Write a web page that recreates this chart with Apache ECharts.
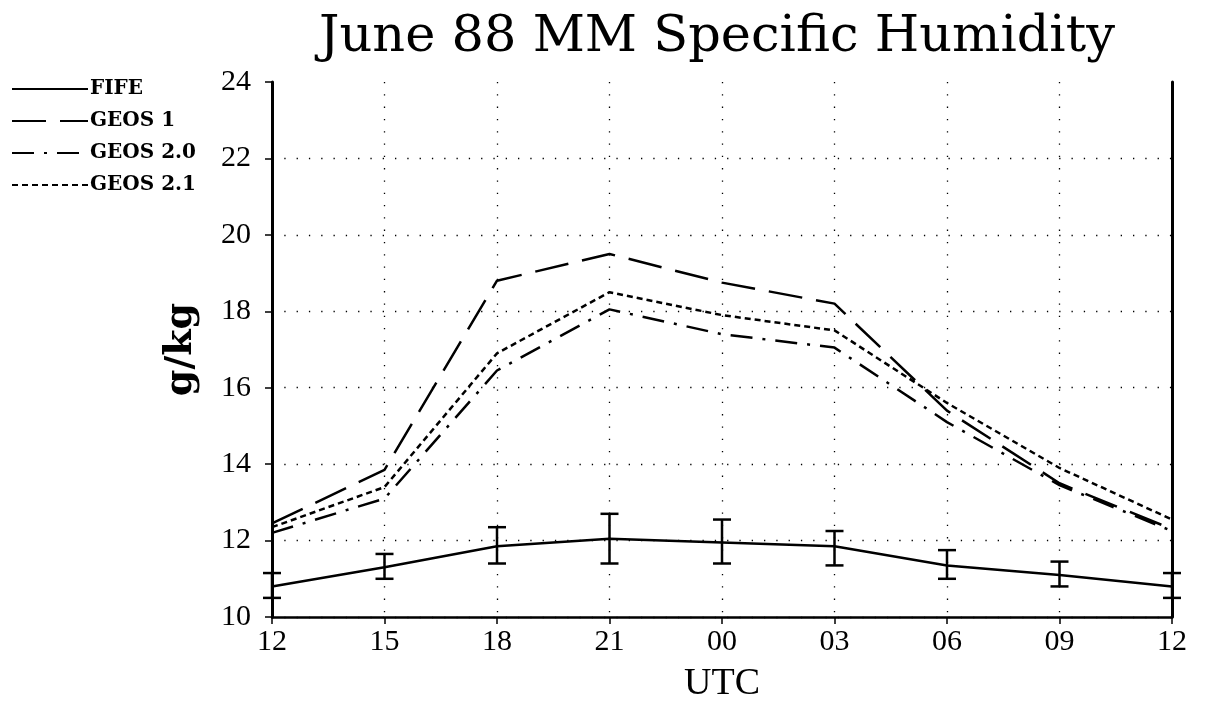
<!DOCTYPE html>
<html>
<head>
<meta charset="utf-8">
<title>June 88 MM Specific Humidity</title>
<script src="https://cdn.jsdelivr.net/npm/echarts@6/dist/echarts.min.js"></script>
<style>
  html, body { margin: 0; padding: 0; background: #fff; }
  #main { width: 1206px; height: 705px; }
</style>
</head>
<body>
<div id="main"></div>
<script>
// UTC hours along the bottom (12 UTC twice: start and end of the day)
var hours = ['12', '15', '18', '21', '00', '03', '06', '09', '12'];

// specific humidity, g/kg
var fife    = [10.8, 11.3, 11.85, 12.05, 11.95, 11.85, 11.35, 11.1, 10.8];
var fifeLow = [10.5, 11.0, 11.4, 11.4, 11.4, 11.35, 11.0, 10.8, 10.5];
var fifeHigh= [11.15, 11.65, 12.35, 12.7, 12.55, 12.25, 11.75, 11.45, 11.15];
var geos1   = [12.45, 13.85, 18.8, 19.5, 18.75, 18.2, 15.4, 13.5, 12.3];
var geos20  = [12.2, 13.1, 16.45, 18.05, 17.4, 17.05, 15.1, 13.45, 12.25];
var geos21  = [12.35, 13.4, 16.9, 18.5, 17.9, 17.5, 15.6, 13.9, 12.55];

var serif = '"DejaVu Serif", "Liberation Serif", serif';
var labelFont = '"Liberation Serif", "DejaVu Serif", serif';
var dots = { color: '#000', width: 1.3, type: [1.3, 11] };

var errData = fife.map(function (v, i) { return [i, fifeLow[i], fifeHigh[i]]; });

var myChart = echarts.init(document.getElementById('main'), null, { renderer: 'canvas' });

var option = {
  backgroundColor: '#fff',
  animation: false,
  title: {
    text: 'June 88 MM Specific Humidity',
    left: 314,
    top: 7,
    textStyle: { fontFamily: serif, fontSize: 51, fontWeight: 'normal', color: '#000' }
  },
  legend: {
    data: ['FIFE', 'GEOS 1', 'GEOS 2.0', 'GEOS 2.1'],
    orient: 'vertical',
    left: 6,
    top: 74,
    itemWidth: 76,
    itemHeight: 12,
    itemGap: 12,
    itemStyle: { opacity: 0 },
    textStyle: { fontFamily: serif, fontSize: 20, fontWeight: 'bold', color: '#000', lineHeight: 20, padding: [0, 0, 0, -3] }
  },
  grid: { left: 272, right: 34, top: 82, bottom: 88, outerBoundsMode: 'none' },
  xAxis: {
    type: 'category',
    data: hours,
    boundaryGap: false,
    name: 'UTC',
    nameLocation: 'middle',
    nameGap: 48,
    nameTextStyle: { fontFamily: labelFont, fontSize: 38, color: '#000' },
    axisLine: { lineStyle: { color: '#000', width: 2.5 } },
    axisTick: { show: true, length: 7, lineStyle: { color: '#000', width: 1.5 } },
    axisLabel: { margin: 10, fontFamily: labelFont, fontSize: 30, color: '#000' },
    splitLine: { show: true, lineStyle: dots }
  },
  yAxis: [{
    type: 'value',
    min: 10,
    max: 24,
    interval: 2,
    name: 'g/kg',
    nameLocation: 'middle',
    nameRotate: 90,
    nameGap: 72,
    nameTextStyle: { fontFamily: serif, fontSize: 38, fontWeight: 'bold', color: '#000' },
    axisLine: { show: true, lineStyle: { color: '#000', width: 3 } },
    axisTick: { show: true, length: 7, lineStyle: { color: '#000', width: 1.5 } },
    axisLabel: { margin: 21, fontFamily: labelFont, fontSize: 30, color: '#000' },
    splitLine: { show: true, showMaxLine: false, lineStyle: dots }
  }, {
    type: 'value',
    position: 'right',
    min: 10,
    max: 24,
    interval: 2,
    axisLine: { show: true, lineStyle: { color: '#000', width: 3 } },
    axisTick: { show: false },
    axisLabel: { show: false },
    splitLine: { show: false }
  }],
  series: [
    {
      name: 'FIFE', type: 'line', data: fife, symbol: 'none', z: 5,
      lineStyle: { color: '#000', width: 2.5, type: 'solid' },
      itemStyle: { color: '#000' }
    },
    {
      name: 'GEOS 1', type: 'line', data: geos1, symbol: 'none',
      lineStyle: { color: '#000', width: 2.5, type: [34, 14] },
      itemStyle: { color: '#000' }
    },
    {
      name: 'GEOS 2.0', type: 'line', data: geos20, symbol: 'none',
      lineStyle: { color: '#000', width: 2.5, type: [22, 10, 3, 10] },
      itemStyle: { color: '#000' }
    },
    {
      name: 'GEOS 2.1', type: 'line', data: geos21, symbol: 'none',
      lineStyle: { color: '#000', width: 2.5, type: [6, 4] },
      itemStyle: { color: '#000' }
    },
    {
      name: 'FIFE range', type: 'custom', data: errData, z: 6,
      encode: { x: 0, y: [1, 2] },
      renderItem: function (params, api) {
        var i = api.value(0);
        var lo = api.coord([i, api.value(1)]);
        var hi = api.coord([i, api.value(2)]);
        var w = 9;
        var st = { stroke: '#000', lineWidth: 2.5 };
        return {
          type: 'group',
          children: [
            { type: 'line', shape: { x1: lo[0], y1: lo[1], x2: hi[0], y2: hi[1] }, style: st },
            { type: 'line', shape: { x1: lo[0] - w, y1: lo[1], x2: lo[0] + w, y2: lo[1] }, style: st },
            { type: 'line', shape: { x1: hi[0] - w, y1: hi[1], x2: hi[0] + w, y2: hi[1] }, style: st }
          ]
        };
      }
    }
  ]
};

myChart.setOption(option);
window.onresize = myChart.resize;
</script>
</body>
</html>
